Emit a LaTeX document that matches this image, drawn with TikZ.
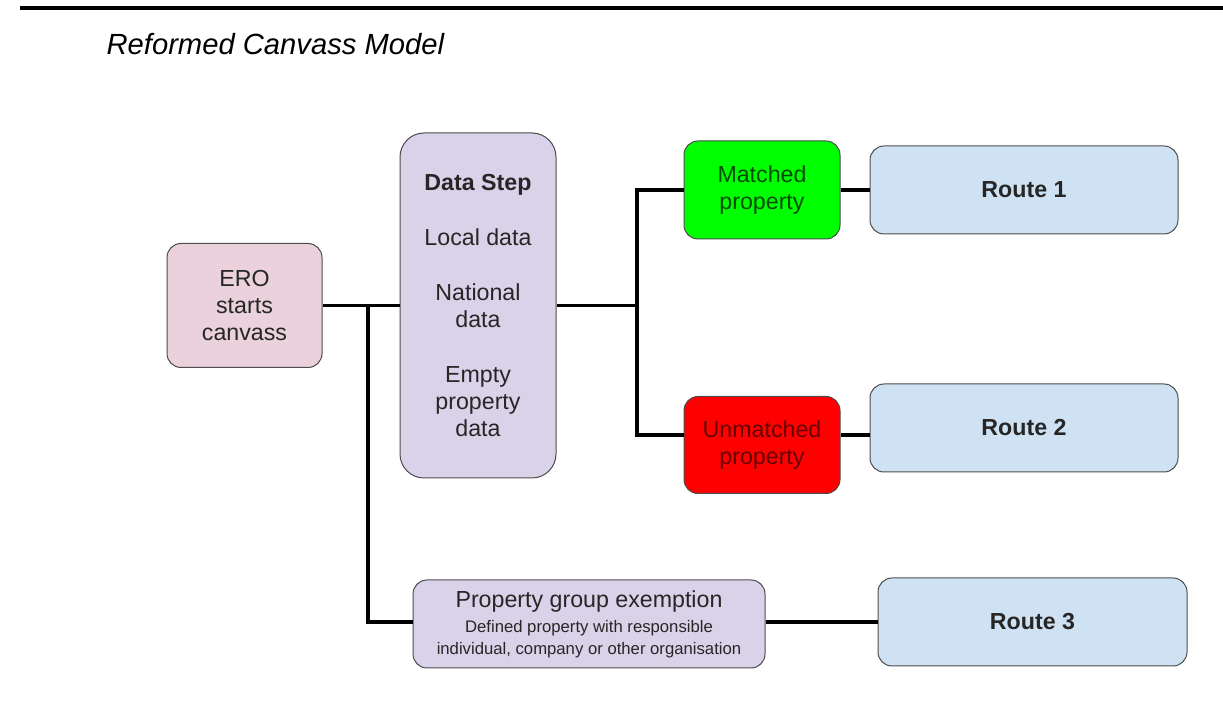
\documentclass[tikz,border=0pt]{standalone}
\usepackage{fontspec}
\setmainfont{Liberation Sans}
\usetikzlibrary{calc}
\definecolor{eropink}{HTML}{EAD1DC}
\definecolor{datalilac}{HTML}{D9D2E9}
\definecolor{routeblue}{HTML}{CFE2F3}
\definecolor{matchgreen}{HTML}{00FF00}
\definecolor{unmatchred}{HTML}{FF0000}
\newcommand{\smalltext}{\fontsize{8.35}{10}\selectfont}
\begin{document}
\begin{tikzpicture}[x=0.5pt, y=-0.5pt, line width=1.6pt,
        box/.style={draw=black!70, line width=0.5pt, rounded corners=7pt, align=center,
            inner sep=0pt, text=black!85, font=\fontsize{11.6}{13.5}\selectfont},
        route/.style={box, fill=routeblue, minimum width=154pt, minimum height=44pt,
            font=\fontsize{11.6}{13.5}\selectfont\bfseries}]
        \useasboundingbox (0,0) rectangle (1223,727);
        % rule and title
        \draw [line width=2pt] (20,8) -- (1223,8);
        \node [anchor=base west, inner sep=0pt, font=\fontsize{14.6}{17}\selectfont\itshape] (title) at (105,55) {Reformed Canvass Model};
        % boxes
        \node [box, fill=eropink, minimum width=77.5pt, minimum height=62pt] (ero) at (244.5,305.5) {ERO\\starts\\canvass};
        \node [box, fill=datalilac, rounded corners=12pt, minimum width=78pt, minimum height=172.5pt] (data) at (478,305.5)
            {\textbf{Data Step}\\[14pt]Local data\\[14pt]National\\data\\[14pt]Empty\\property\\data};
        \node [box, fill=matchgreen, text=green!30!black, minimum width=78pt, minimum height=49pt] (matched) at (762,190) {Matched\\property};
        \node [box, fill=unmatchred, text=red!40!black, minimum width=78pt, minimum height=48.5pt] (unmatched) at (762,445) {Unmatched\\property};
        \node [route] (route1) at (1024,190) {Route 1};
        \node [route] (route2) at (1024,428) {Route 2};
        \node [box, fill=datalilac, minimum width=176pt, minimum height=44pt] (exempt) at (589,624)
            {Property group exemption\\[-1pt]\smalltext Defined property with responsible\\[-2.5pt]\smalltext individual, company or other organisation};
        \node [route, minimum width=154.5pt] (route3) at (1032.5,622) {Route 3};
        % junctions
        \coordinate (split) at (368,305.5);
        \coordinate (fork) at (637,305.5);
        % lines
        \draw (ero) -- (data);
        \draw (split) |- (exempt.west |- route3.west);
        \draw (data) -- (fork);
        \draw (matched) -| (fork) |- ([yshift=5pt]unmatched.west);
        \draw (matched) -- (route1);
        \draw ([yshift=5pt]unmatched.east) -- ([yshift=5pt]unmatched.east -| route2.west);
        \draw (exempt.east |- route3.west) -- (route3);
\end{tikzpicture}
\end{document}
